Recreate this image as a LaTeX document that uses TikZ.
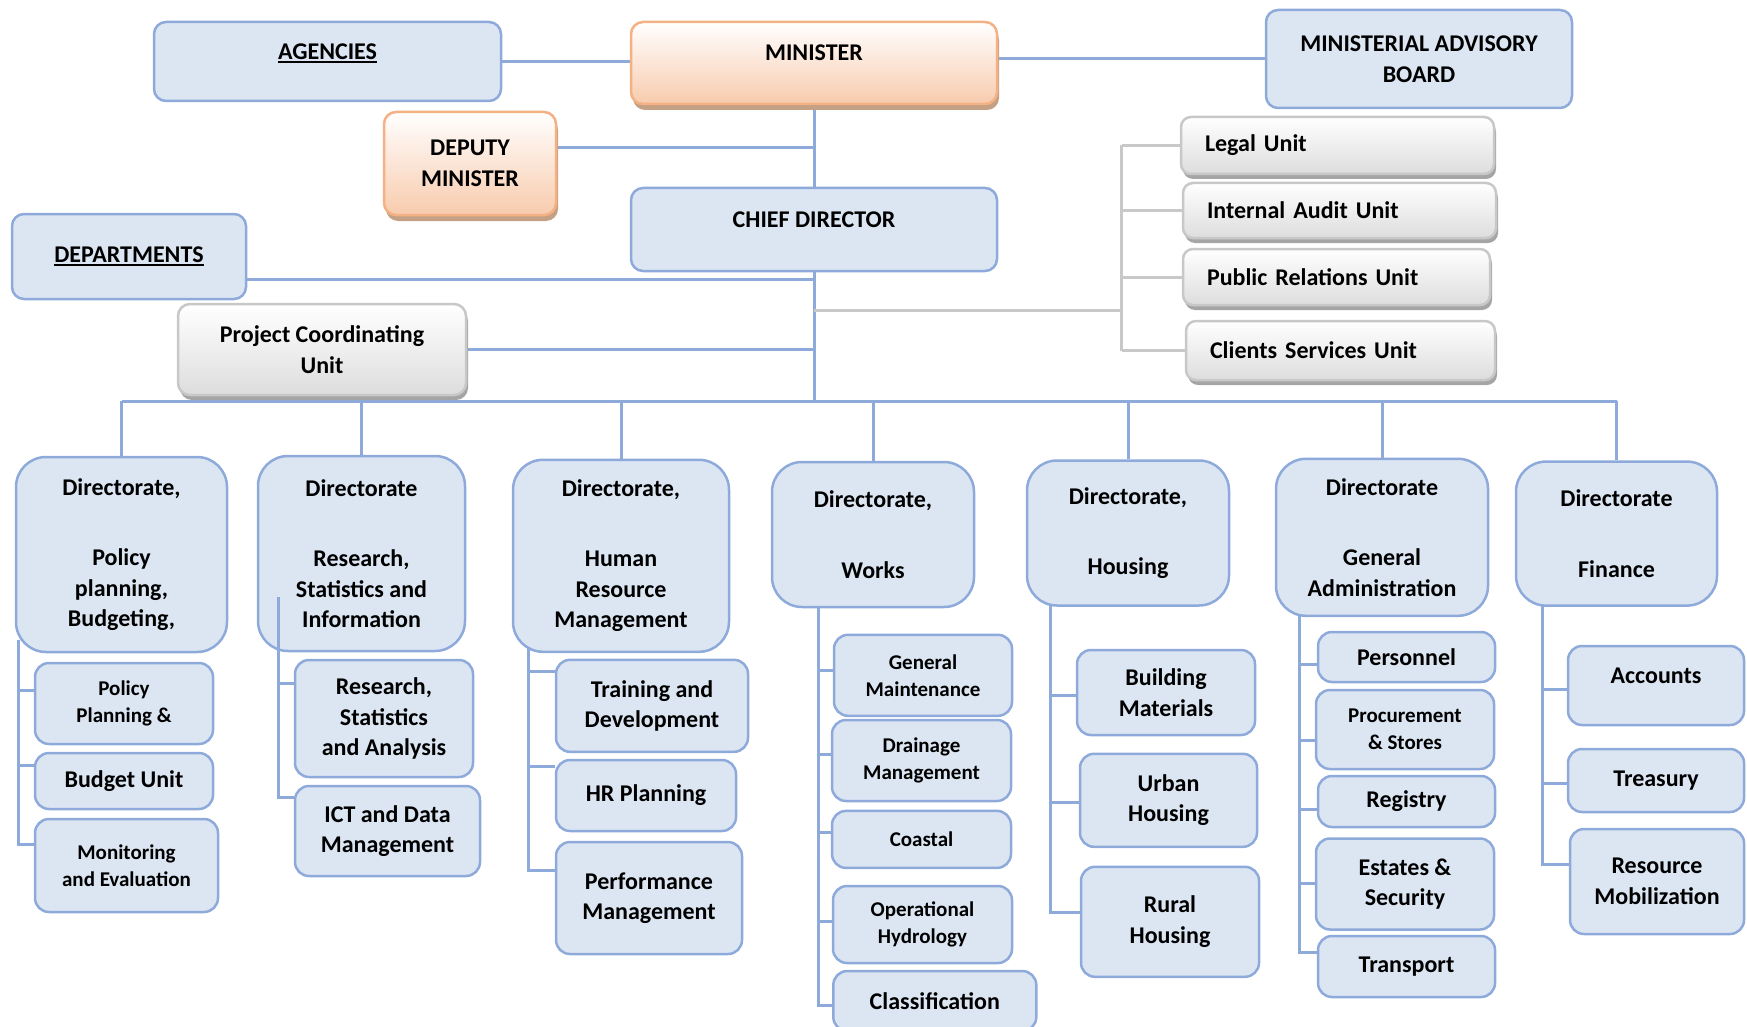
\documentclass[tikz,border=0pt]{standalone}
\usepackage{fontspec}
\setmainfont{Carlito}
\usepackage{tikz}
\usetikzlibrary{shadows,backgrounds}

\definecolor{bxfill}{RGB}{220,230,242}
\definecolor{bxline}{RGB}{142,170,219}
\definecolor{orline}{RGB}{244,177,131}
\definecolor{orfill}{RGB}{248,203,173}
\definecolor{orshade}{RGB}{196,160,132}
\definecolor{gyline}{RGB}{200,200,200}
\definecolor{gyfill}{RGB}{221,221,221}
\definecolor{gyshade}{RGB}{165,165,165}

\newcommand{\orgfont}{\fontsize{24}{30.5}\selectfont\bfseries}
\newcommand{\orgsmall}{\fontsize{21}{27}\selectfont\bfseries}
\newcommand{\ulined}[1]{\leavevmode\setbox0\hbox{#1}\rlap{\rule[-3.5pt]{\wd0}{2.2pt}}\box0}

\begin{document}
\begin{tikzpicture}[x=1pt, y=-1pt,
    link/.style={draw=bxline, line width=3pt},
    unitlink/.style={draw=gyline, line width=3pt},
    box/.style={draw=bxline, line width=2.5pt, fill=bxfill, inner sep=0pt, align=center, font=\orgfont},
    topbox/.style={box, rounded corners=12pt},
    dirbox/.style={box, rounded corners=30pt},
    subbox/.style={box, rounded corners=14pt},
    orbox/.style={topbox, draw=orline, top color=white, bottom color=orfill,
        drop shadow={shadow xshift=2pt, shadow yshift=-6pt, fill=orshade, opacity=1}},
    gybox/.style={topbox, draw=gyline, top color=white, bottom color=gyfill,
        drop shadow={shadow xshift=2pt, shadow yshift=-5pt, fill=gyshade, opacity=1}},
    unitbox/.style={gybox, rounded corners=10pt, align=left, inner xsep=24pt,
        drop shadow={shadow xshift=0pt, shadow yshift=-1pt, fill=gyline, opacity=1}},
    small/.style={font=\orgsmall},
    raised/.style={text depth=20pt},
    sz/.style 2 args={minimum width=#1pt, minimum height=#2pt}]
\useasboundingbox (0,0) rectangle (1747,1027);

% top of the chart
\node[topbox, raised, sz={347}{79}] (agencies) at (327.5,61.5) {\ulined{AGENCIES}};
\node[orbox, raised, sz={366}{82}] (minister) at (814,63) {MINISTER};
\node[topbox, sz={306}{98}] (advisory) at (1419,59) {MINISTERIAL ADVISORY\\BOARD};
\node[orbox, sz={172}{103}] (deputy) at (470,163.5) {DEPUTY\\MINISTER};
\node[topbox, raised, sz={366}{83}] (chief) at (814,229.5) {CHIEF DIRECTOR};
\node[topbox, sz={234}{85}] (departments) at (129,256.5) {\ulined{DEPARTMENTS}};
\node[gybox, sz={288}{91}] (pcu) at (322,349.5) {Project Coordinating\\Unit};

% units beside the chief director
\node[unitbox, text width=265pt, minimum height=57pt] (legal) at (1337.5,145.5) {Legal Unit};
\node[unitbox, text width=265pt, minimum height=55pt] (audit) at (1339.5,210.5) {Internal Audit Unit};
\node[unitbox, text width=259pt, minimum height=56pt] (pr) at (1336.5,277) {Public Relations Unit};
\node[unitbox, text width=261pt, minimum height=59pt] (clients) at (1340.5,350.5) {Clients Services Unit};

% directorates
\node[dirbox, sz={211}{195}] (d1) at (121.5,554.5) {Directorate,\\[40pt]Policy\\planning,\\Budgeting,};
\node[dirbox, sz={207}{195}] (d2) at (361.5,553.5) {Directorate\\[40pt]Research,\\Statistics and\\Information};
\node[dirbox, sz={216}{192}] (d3) at (621,555.8) {Directorate,\\[40pt]Human\\Resource\\Management};
\node[dirbox, sz={202}{145}] (d4) at (873,534.5) {Directorate,\\[40pt]Works};
\node[dirbox, sz={202}{145}] (d5) at (1128,533) {Directorate,\\[40pt]Housing};
\node[dirbox, sz={212}{157}] (d6) at (1382,537.3) {Directorate\\[40pt]General\\Administration};
\node[dirbox, sz={201}{144}] (d7) at (1616.5,533.6) {Directorate\\[40pt]Finance};

% sections
\node[subbox, small, sz={178}{81}] (pp) at (124,703.5) {Policy\\Planning \&};
\node[subbox, sz={178}{56}] (bu) at (124,781) {Budget Unit};
\node[subbox, small, sz={183}{93}] (me) at (126.5,865.5) {Monitoring\\and Evaluation};

\node[subbox, sz={178}{117}] (rsa) at (384,718.5) {Research,\\Statistics\\and Analysis};
\node[subbox, sz={185}{90}] (ict) at (387.5,831) {ICT and Data\\Management};

\node[subbox, sz={192}{92}] (td) at (652,705.8) {Training and\\Development};
\node[subbox, sz={180}{71}] (hr) at (646,795.5) {HR Planning};
\node[subbox, sz={186}{112}] (pm) at (649,898) {Performance\\Management};

\node[subbox, small, sz={178}{81}] (gm) at (923,675.3) {General\\Maintenance};
\node[subbox, small, sz={179}{81}] (dm) at (921.5,760.5) {Drainage\\Management};
\node[subbox, small, sz={179}{57}] (co) at (921.5,839.4) {Coastal};
\node[subbox, small, sz={179}{77}] (oh) at (922.5,924.5) {Operational\\Hydrology};
\node[subbox, sz={203}{60}] (cl) at (934.8,1001) {Classification};

\node[subbox, sz={178}{85}] (bm) at (1166,692.5) {Building\\Materials};
\node[subbox, sz={177}{93}] (uh) at (1168.5,800.3) {Urban\\Housing};
\node[subbox, sz={178}{110}] (rh) at (1170,921.8) {Rural\\Housing};

\node[subbox, sz={177}{50}] (pe) at (1406.5,657) {Personnel};
\node[subbox, small, sz={178}{79}] (ps) at (1405,729.5) {Procurement\\\& Stores};
\node[subbox, sz={177}{51}] (re) at (1406.5,801.5) {Registry};
\node[subbox, sz={178}{91}] (es) at (1405,884) {Estates \&\\Security};
\node[subbox, sz={177}{61}] (tr) at (1406.5,966.5) {Transport};

\node[subbox, raised, sz={176}{79}] (ac) at (1656,685.5) {Accounts};
\node[subbox, sz={176}{63}] (ty) at (1656,780.5) {Treasury};
\node[subbox, sz={174}{105}] (rm) at (1657,881.5) {Resource\\Mobilization};

\coordinate (bus) at (0,401);
\coordinate (ubr) at (1121.5,310);
\coordinate (t1) at (18,640);
\coordinate (t2) at (278,597);
\coordinate (t3) at (528.6,645);
\coordinate (t4) at (818,600);
\coordinate (t5) at (1050,600);
\coordinate (t6) at (1299,610);
\coordinate (t7) at (1542,600);

\begin{pgfonlayer}{background}
\draw[link] (agencies.east) -- (agencies.east -| minister.west);
\draw[link] (advisory.west) -- (advisory.west -| minister.east);
\draw[link] (minister.south) -- (minister.south |- bus);
\draw[link] ([yshift=16pt]deputy.east) -- ([yshift=16pt]deputy.east -| minister.south);
\draw[link] ([yshift=-23pt]departments.east) -- ([yshift=-23pt]departments.east -| minister.south);
\draw[link] (pcu.east) -- (pcu.east -| minister.south);
\draw[unitlink] (minister.south |- ubr) -- (ubr);
\draw[unitlink] (ubr |- legal.west) -- (ubr |- clients.west);
\foreach \u in {legal,audit,pr,clients}
    \draw[unitlink] (ubr |- \u.west) -- (\u.west);
\draw[link] (d1.north |- bus) -- (d7.north |- bus);
\foreach \i in {1,...,7}
    \draw[link] (d\i.north) -- (d\i.north |- bus);

\draw[link] (t1) |- (pp.west |- 0,690) (t1) |- (bu.west |- 0,765) (t1) |- (me.west |- 0,844);
\draw[link] (t3) |- (td.west |- 0,671) (t3) |- (hr.west |- 0,766) (t3) |- (pm.west |- 0,870.5);
\draw[link] (t4) |- (gm.west |- 0,670) (t4) |- (dm.west |- 0,754) (t4) |- (co.west |- 0,832)
    (t4) |- (oh.west |- 0,921) (t4) |- (cl.west |- 0,1005);
\draw[link] (t5) |- (bm.west |- 0,695.7) (t5) |- (uh.west |- 0,802) (t5) |- (rh.west |- 0,912.5);
\draw[link] (t6) |- (pe.west |- 0,664.6) (t6) |- (ps.west |- 0,740) (t6) |- (re.west |- 0,809.5)
    (t6) |- (es.west |- 0,883.6) (t6) |- (tr.west |- 0,952);
\draw[link] (t7) |- (ac.west |- 0,689) (t7) |- (ty.west |- 0,783.7) (t7) |- (rm.west |- 0,864);
\end{pgfonlayer}

% this one runs over its directorate
\draw[link] (t2) |- (rsa.west |- 0,683) (t2) |- (ict.west |- 0,797);
\end{tikzpicture}
\end{document}
